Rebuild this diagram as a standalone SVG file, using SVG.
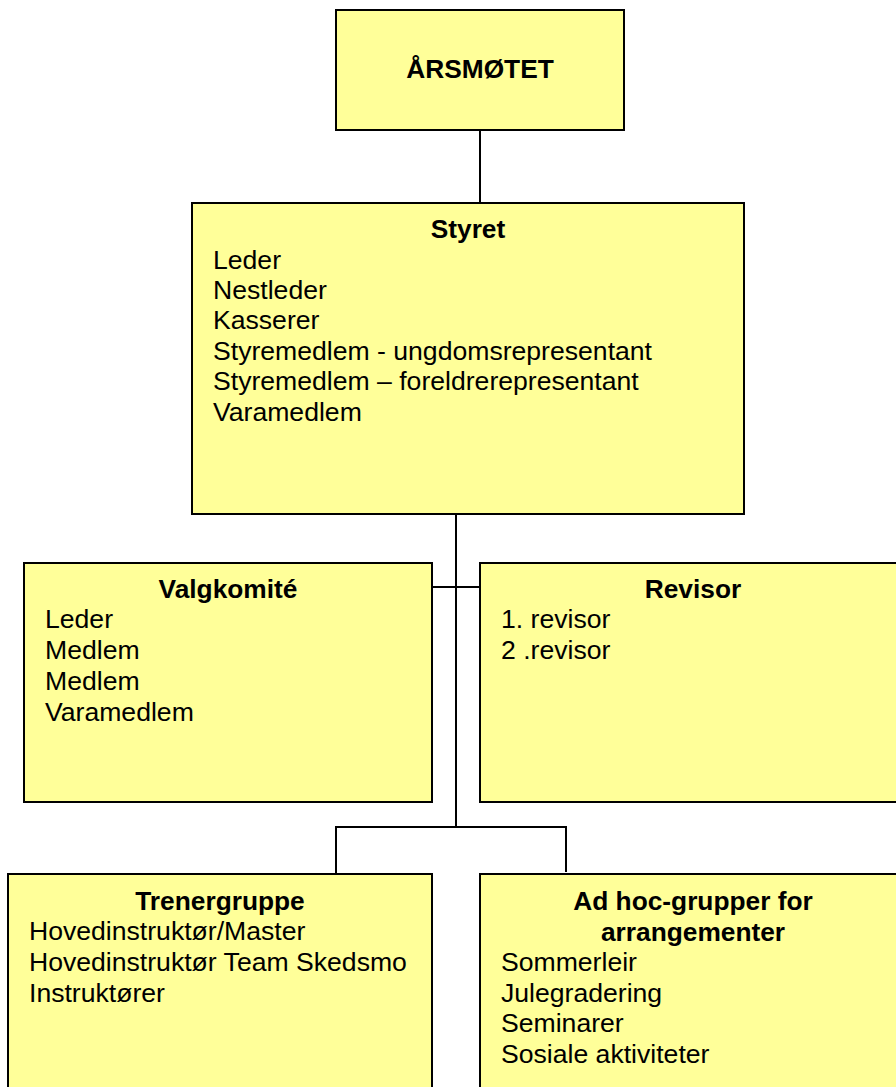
<svg xmlns="http://www.w3.org/2000/svg" width="896" height="1087" viewBox="0 0 896 1087">
<style>
.box{fill:#FFFF99;stroke:#000;stroke-width:2}
.t{font-family:"Liberation Sans",Arial,sans-serif;font-size:26.6px;fill:#000}
.b{font-weight:bold;text-anchor:middle;font-size:26.3px}
.c{fill:none;stroke:#000;stroke-width:2}
</style>
<rect width="896" height="1087" fill="#fff"/>
<g id="connectors">
<line class="c" x1="480" y1="130" x2="480" y2="203"/>
<line class="c" x1="456" y1="514" x2="456" y2="827"/>
<line class="c" x1="432" y1="587" x2="480" y2="587"/>
<polyline class="c" points="336,874 336,827 566,827 566,872"/>
</g>
<g id="arsmotet">
<rect class="box" x="336" y="10" width="288" height="120"/>
<text class="t b" x="480" y="78">ÅRSMØTET</text>
</g>
<g id="styret">
<rect class="box" x="192" y="203" width="552" height="311"/>
<text class="t b" x="468" y="238">Styret</text>
<text class="t" x="213" y="269">Leder</text>
<text class="t" x="213" y="299">Nestleder</text>
<text class="t" x="213" y="329">Kasserer</text>
<text class="t" x="213" y="360">Styremedlem - ungdomsrepresentant</text>
<text class="t" x="213" y="390">Styremedlem – foreldrerepresentant</text>
<text class="t" x="213" y="421">Varamedlem</text>
</g>
<g id="valgkomite">
<rect class="box" x="24" y="563" width="408" height="239"/>
<text class="t b" x="228" y="598">Valgkomité</text>
<text class="t" x="45" y="628">Leder</text>
<text class="t" x="45" y="659">Medlem</text>
<text class="t" x="45" y="690">Medlem</text>
<text class="t" x="45" y="721">Varamedlem</text>
</g>
<g id="revisor">
<rect class="box" x="480" y="563" width="430" height="239"/>
<text class="t b" x="693" y="598">Revisor</text>
<text class="t" x="501" y="628">1. revisor</text>
<text class="t" x="501" y="659">2 .revisor</text>
</g>
<g id="trenergruppe">
<rect class="box" x="8" y="874" width="424" height="230"/>
<text class="t b" x="220" y="910">Trenergruppe</text>
<text class="t" x="29" y="940">Hovedinstruktør/Master</text>
<text class="t" x="29" y="971">Hovedinstruktør Team Skedsmo</text>
<text class="t" x="29" y="1002">Instruktører</text>
</g>
<g id="adhoc">
<rect class="box" x="480" y="874" width="430" height="230"/>
<text class="t b" x="693" y="910">Ad hoc-grupper for</text>
<text class="t b" x="693" y="941">arrangementer</text>
<text class="t" x="501" y="971">Sommerleir</text>
<text class="t" x="501" y="1002">Julegradering</text>
<text class="t" x="501" y="1032">Seminarer</text>
<text class="t" x="501" y="1063">Sosiale aktiviteter</text>
</g>
</svg>
